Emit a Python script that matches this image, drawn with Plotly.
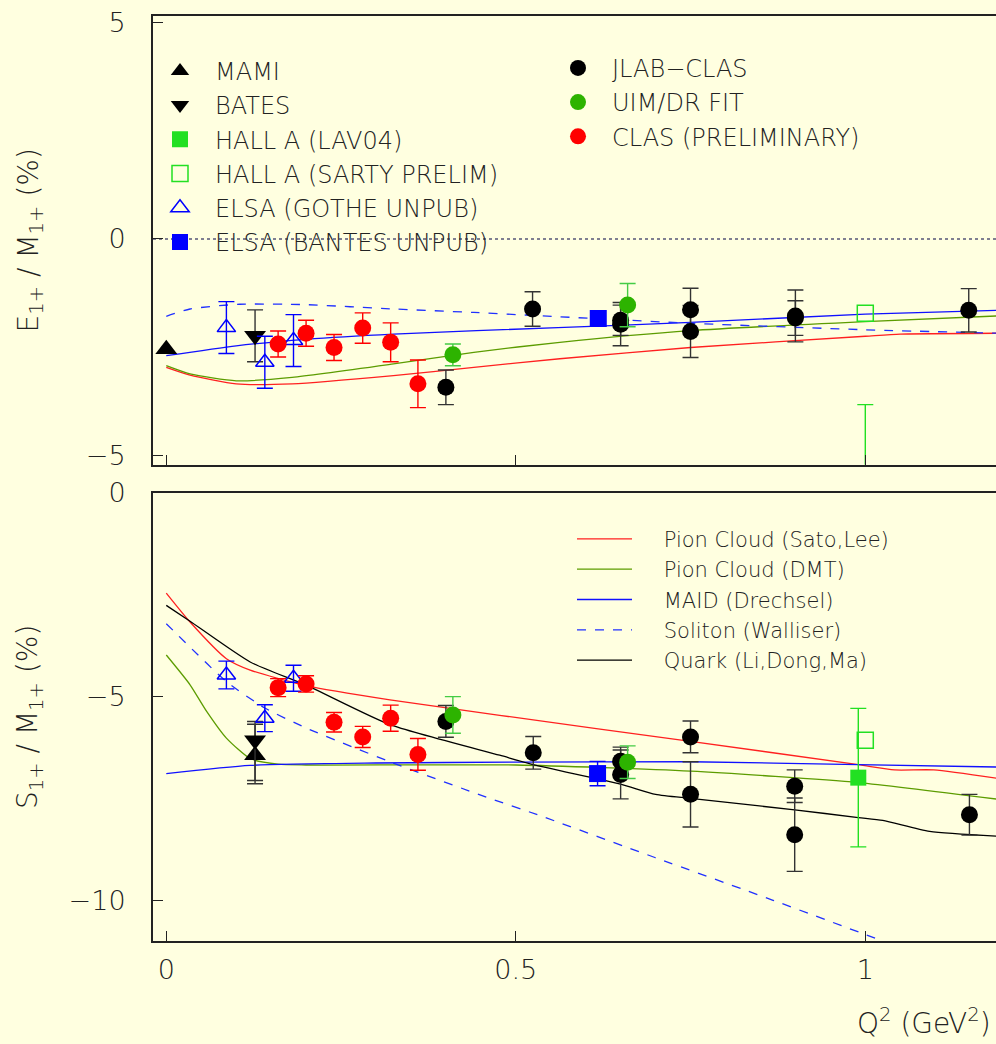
import plotly.graph_objects as go

# ---------------- data: E1+/M1+ panel ----------------
MAMI_E_X = [0.0]
MAMI_E_Y = [-2.55]
BATES_E_X = [0.127]
BATES_E_Y = [-2.24]
BATES_E_ERR = [0.6]
HALLA_LAV_E_X = [1.0]
HALLA_LAV_E_Y = [-6.0]
HALLA_LAV_E_ERR = [2.17]
HALLA_SARTY_E_X = [1.0]
HALLA_SARTY_E_Y = [-1.72]
ELSA_GOTHE_E_X = [0.086, 0.141, 0.182]
ELSA_GOTHE_E_Y = [-2.05, -2.85, -2.35]
ELSA_GOTHE_E_ERR = [0.6, 0.6, 0.6]
ELSA_BANTES_E_X = [0.618]
ELSA_BANTES_E_Y = [-1.84]
JLAB_E_X = [0.40, 0.524, 0.65, 0.65, 0.75, 0.75, 0.90, 0.90, 1.148]
JLAB_E_Y = [-3.43, -1.62, -1.97, -1.88, -1.64, -2.14, -1.78, -1.83, -1.65]
JLAB_E_ERR = [0.40, 0.40, 0.50, 0.35, 0.50, 0.60, 0.60, 0.40, 0.50]
UIM_E_X = [0.41, 0.66]
UIM_E_Y = [-2.68, -1.53]
UIM_E_ERR = [0.25, 0.5]
CLASP_E_X = [0.16, 0.20, 0.24, 0.281, 0.321, 0.36]
CLASP_E_Y = [-2.43, -2.18, -2.51, -2.06, -2.39, -3.35]
CLASP_E_ERR = [0.3, 0.3, 0.3, 0.35, 0.45, 0.55]

SATO_E_X = [0, 0.034, 0.1, 0.18, 0.325, 0.44, 0.563, 0.75, 1.0, 1.05, 1.19]
SATO_E_Y = [-2.97, -3.15, -3.35, -3.35, -3.16, -2.97, -2.77, -2.51, -2.25, -2.2, -2.18]
DMT_E_X = [0, 0.034, 0.1, 0.18, 0.325, 0.44, 0.563, 0.75, 1.0, 1.19]
DMT_E_Y = [-2.93, -3.12, -3.28, -3.2, -2.89, -2.62, -2.39, -2.12, -1.91, -1.78]
MAID_E_X = [0, 0.1, 0.2, 0.325, 0.56, 0.75, 1.0, 1.19]
MAID_E_Y = [-2.7, -2.47, -2.32, -2.2, -2.05, -1.93, -1.74, -1.65]
SOL_E_X = [0, 0.034, 0.105, 0.2, 0.325, 0.44, 0.563, 0.75, 1.0, 1.19]
SOL_E_Y = [-1.79, -1.62, -1.51, -1.52, -1.62, -1.70, -1.80, -1.95, -2.10, -2.18]

# ---------------- data: S1+/M1+ panel ----------------
MAMI_S_X = [0.127]
MAMI_S_Y = [-6.44]
MAMI_S_EP = [0.76]
MAMI_S_EM = [0.62]
BATES_S_X = [0.127]
BATES_S_Y = [-6.07]
BATES_S_EP = [0.46]
BATES_S_EM = [1.07]
HALLA_LAV_S_X = [0.99]
HALLA_LAV_S_Y = [-6.99]
HALLA_LAV_S_ERR = [1.7]
HALLA_SARTY_S_X = [1.0]
HALLA_SARTY_S_Y = [-6.07]
ELSA_GOTHE_S_X = [0.086, 0.141, 0.182]
ELSA_GOTHE_S_Y = [-4.47, -5.53, -4.55]
ELSA_GOTHE_S_ERR = [0.34, 0.33, 0.32]
ELSA_BANTES_S_X = [0.617]
ELSA_BANTES_S_Y = [-6.89]
ELSA_BANTES_S_ERR = [0.3]
JLAB_S_X = [0.40, 0.525, 0.65, 0.65, 0.75, 0.75, 0.899, 0.899, 1.149]
JLAB_S_Y = [-5.61, -6.38, -6.59, -6.91, -5.99, -7.40, -7.20, -8.39, -7.90]
JLAB_S_ERR = [0.39, 0.40, 0.35, 0.60, 0.39, 0.80, 0.40, 0.90, 0.50]
UIM_S_X = [0.41, 0.66]
UIM_S_Y = [-5.45, -6.61]
UIM_S_ERR = [0.45, 0.4]
CLASP_S_X = [0.16, 0.20, 0.24, 0.281, 0.321, 0.36]
CLASP_S_Y = [-4.78, -4.69, -5.63, -5.99, -5.53, -6.42]
CLASP_S_ERR = [0.22, 0.2, 0.24, 0.26, 0.32, 0.39]

SATO_S_X = [0, 0.034, 0.086, 0.12, 0.2, 0.32, 0.477, 0.75, 0.99, 1.042, 1.098, 1.19]
SATO_S_Y = [-2.46, -3.17, -4.07, -4.35, -4.73, -5.08, -5.46, -6.10, -6.67, -6.80, -6.80, -7.01]
DMT_S_X = [0, 0.034, 0.058, 0.086, 0.12, 0.16, 0.2, 0.5, 0.75, 0.99, 1.19]
DMT_S_Y = [-3.98, -4.71, -5.37, -6.02, -6.52, -6.66, -6.68, -6.68, -6.83, -7.11, -7.52]
MAID_S_X = [0, 0.12, 0.3, 0.5, 0.75, 0.99, 1.19]
MAID_S_Y = [-6.89, -6.69, -6.63, -6.61, -6.60, -6.67, -6.73]
SOL_S_X = [0, 0.086, 0.141, 0.2, 0.32, 0.463, 0.531, 0.699, 0.868, 1.014]
SOL_S_Y = [-3.21, -4.63, -5.28, -5.77, -6.60, -7.50, -7.90, -8.95, -10.0, -10.93]
QUARK_S_X = [0, 0.034, 0.12, 0.2, 0.32, 0.477, 0.525, 0.65, 0.70, 0.75, 0.899, 0.99, 1.025, 1.092, 1.19]
QUARK_S_Y = [-2.76, -3.15, -4.15, -4.72, -5.69, -6.44, -6.67, -7.15, -7.4, -7.5, -7.78, -7.97, -8.04, -8.31, -8.43]

X_TICKS = [0, 0.5, 1]
X_TICKTEXT = ["0", "0.5", "1"]
Y1_TICKS = [-5, 0, 5]
Y1_TICKTEXT = ["\u22125", "0", "5"]
Y2_TICKS = [-10, -5, 0]
Y2_TICKTEXT = ["\u221210", "\u22125", "0"]

# ---------------- styles ----------------
FONT = "DejaVu Sans"
WGT = 200
TXT = "#222222"
BG = "#ffffe0"
RED = "#ff0000"
BLUE = "#0000ff"
LGREEN = "#22e022"
DGREEN = "#2db300"
BLACK = "#000000"
NB = "\u00a0" * 4

fig = go.Figure()


def err(arr, color, minus=None):
    d = dict(type="data", array=arr, color=color, thickness=1.4, width=8, visible=True)
    if minus is not None:
        d["symmetric"] = False
        d["arrayminus"] = minus
    return d


def pts(x, y, name, symbol, color, size, xa, ya, legend=None, e=None, lw=0):
    show = legend is not None
    fig.add_trace(go.Scatter(
        x=x, y=y, mode="markers", name=name,
        marker=dict(symbol=symbol, color=color, size=size,
                    line=dict(color=color, width=lw)),
        error_y=e, xaxis=xa, yaxis=ya, showlegend=show,
        legend=legend if show else "legend", legendgroup=name,
    ))


def curve(x, y, name, color, dash, xa, ya, show):
    fig.add_trace(go.Scatter(
        x=x, y=y, mode="lines", name=name,
        line=dict(color=color, width=1.3, dash=dash, shape="spline", smoothing=0.6),
        xaxis=xa, yaxis=ya, showlegend=show, legend="legend3", legendgroup=name,
    ))


# curves (drawn first, underneath points)
curve(SATO_E_X, SATO_E_Y, "Pion Cloud (Sato,Lee)", "#ff2020", "solid", "x", "y", False)
curve(DMT_E_X, DMT_E_Y, "Pion Cloud (DMT)", "#5c9c00", "solid", "x", "y", False)
curve(MAID_E_X, MAID_E_Y, "MAID (Drechsel)", "#1010ff", "solid", "x", "y", False)
curve(SOL_E_X, SOL_E_Y, "Soliton (Walliser)", "#2030ff", "dash", "x", "y", False)

curve(SATO_S_X, SATO_S_Y, NB + "Pion Cloud (Sato,Lee)", "#ff2020", "solid", "x2", "y2", True)
curve(DMT_S_X, DMT_S_Y, NB + "Pion Cloud (DMT)", "#5c9c00", "solid", "x2", "y2", True)
curve(MAID_S_X, MAID_S_Y, NB + "MAID (Drechsel)", "#1010ff", "solid", "x2", "y2", True)
curve(SOL_S_X, SOL_S_Y, NB + "Soliton (Walliser)", "#2030ff", "dash", "x2", "y2", True)
curve(QUARK_S_X, QUARK_S_Y, NB + "Quark (Li,Dong,Ma)", BLACK, "solid", "x2", "y2", True)

# E panel points
pts(MAMI_E_X, MAMI_E_Y, "MAMI", "triangle-up", BLACK, 19, "x", "y", legend="legend")
pts(BATES_E_X, BATES_E_Y, "BATES", "triangle-down", BLACK, 19, "x", "y", legend="legend",
    e=err(BATES_E_ERR, "#333333"))
pts(HALLA_LAV_E_X, HALLA_LAV_E_Y, "HALL A (LAV04)", "square", LGREEN, 16, "x", "y", legend="legend",
    e=err(HALLA_LAV_E_ERR, LGREEN))
pts(HALLA_SARTY_E_X, HALLA_SARTY_E_Y, "HALL A (SARTY PRELIM)", "square-open", LGREEN, 16, "x", "y",
    legend="legend", lw=1.5)
pts(ELSA_GOTHE_E_X, ELSA_GOTHE_E_Y, "ELSA (GOTHE UNPUB)", "triangle-up-open", BLUE, 16, "x", "y",
    legend="legend", e=err(ELSA_GOTHE_E_ERR, BLUE), lw=1.5)
pts(ELSA_BANTES_E_X, ELSA_BANTES_E_Y, "ELSA (BANTES UNPUB)", "square", BLUE, 17, "x", "y", legend="legend")
pts(JLAB_E_X, JLAB_E_Y, "JLAB\u2212CLAS", "circle", BLACK, 17, "x", "y", legend="legend2",
    e=err(JLAB_E_ERR, "#333333"))
pts(UIM_E_X, UIM_E_Y, "UIM/DR FIT", "circle", DGREEN, 17, "x", "y", legend="legend2",
    e=err(UIM_E_ERR, "#44cc44"))
pts(CLASP_E_X, CLASP_E_Y, "CLAS (PRELIMINARY)", "circle", RED, 17, "x", "y", legend="legend2",
    e=err(CLASP_E_ERR, RED))

# S panel points
pts(MAMI_S_X, MAMI_S_Y, "MAMI", "triangle-up", BLACK, 19, "x2", "y2",
    e=err(MAMI_S_EP, "#333333", MAMI_S_EM))
pts(BATES_S_X, BATES_S_Y, "BATES", "triangle-down", BLACK, 19, "x2", "y2",
    e=err(BATES_S_EP, "#333333", BATES_S_EM))
pts(HALLA_SARTY_S_X, HALLA_SARTY_S_Y, "HALL A (SARTY PRELIM)", "square-open", LGREEN, 16, "x2", "y2", lw=1.5)
pts(HALLA_LAV_S_X, HALLA_LAV_S_Y, "HALL A (LAV04)", "square", LGREEN, 16, "x2", "y2",
    e=err(HALLA_LAV_S_ERR, LGREEN))
pts(ELSA_GOTHE_S_X, ELSA_GOTHE_S_Y, "ELSA (GOTHE UNPUB)", "triangle-up-open", BLUE, 16, "x2", "y2",
    e=err(ELSA_GOTHE_S_ERR, BLUE), lw=1.5)
pts(ELSA_BANTES_S_X, ELSA_BANTES_S_Y, "ELSA (BANTES UNPUB)", "square", BLUE, 17, "x2", "y2",
    e=err(ELSA_BANTES_S_ERR, BLUE))
pts(JLAB_S_X, JLAB_S_Y, "JLAB\u2212CLAS", "circle", BLACK, 17, "x2", "y2", e=err(JLAB_S_ERR, "#333333"))
pts(UIM_S_X, UIM_S_Y, "UIM/DR FIT", "circle", DGREEN, 17, "x2", "y2", e=err(UIM_S_ERR, "#44cc44"))
pts(CLASP_S_X, CLASP_S_Y, "CLAS (PRELIMINARY)", "circle", RED, 17, "x2", "y2", e=err(CLASP_S_ERR, RED))

W, H = 996, 1044
ML, MR, MT, MB = 153, 0, 10, 103
PW, PH = W - ML - MR, H - MT - MB


def px(xp):
    return (xp - ML) / PW


def py(yp):
    return (H - MB - yp) / PH


def fnt(size):
    return dict(family=FONT, size=size, color=TXT, weight=WGT)


axis_common = dict(showline=True, linewidth=2, linecolor=TXT, ticks="inside", ticklen=10,
                   tickwidth=1.3, tickcolor=TXT, showgrid=False, zeroline=False,
                   tickfont=fnt(27))

fig.update_layout(
    width=W, height=H,
    margin=dict(l=ML, r=MR, t=MT, b=MB),
    paper_bgcolor=BG, plot_bgcolor=BG,
    font=fnt(24),
    xaxis=dict(domain=[0, 1], range=[-0.019, 1.187], anchor="y", mirror=True,
               tickvals=X_TICKS, showticklabels=False, **axis_common),
    yaxis=dict(domain=[py(461.7), 1], range=[-5.22, 5.15], anchor="x",
               tickvals=Y1_TICKS, ticktext=Y1_TICKTEXT, ticklabelstandoff=20, **axis_common),
    xaxis2=dict(domain=[0, 1], range=[-0.019, 1.187], anchor="y2", mirror=True,
                tickvals=X_TICKS, ticktext=X_TICKTEXT, ticklabelstandoff=4, **axis_common),
    yaxis2=dict(domain=[0, py(490)], range=[-11, 0], anchor="x2",
                tickvals=Y2_TICKS, ticktext=Y2_TICKTEXT, ticklabelstandoff=20, **axis_common),
    legend=dict(x=px(145), y=py(43), xanchor="left", yanchor="top", bgcolor="rgba(0,0,0,0)",
                itemwidth=60, tracegroupgap=0, font=fnt(24)),
    legend2=dict(x=px(544), y=py(40), xanchor="left", yanchor="top", bgcolor="rgba(0,0,0,0)",
                 itemwidth=58, tracegroupgap=0, font=fnt(24)),
    legend3=dict(x=px(572), y=py(516), xanchor="left", yanchor="top", bgcolor="rgba(0,0,0,0)",
                 itemwidth=55, tracegroupgap=0, font=fnt(21)),
    shapes=[dict(type="line", xref="x domain", yref="y", x0=0, x1=1, y0=0, y1=0,
                 line=dict(color="#555577", width=1.5, dash="dot"), layer="below")],
    annotations=[
        dict(text="E<sub>1+</sub> / M<sub>1+</sub> (%)", xref="paper", yref="y domain",
             x=px(30), y=0.5, xanchor="center", yanchor="middle", textangle=-90, showarrow=False,
             font=fnt(28)),
        dict(text="S<sub>1+</sub> / M<sub>1+</sub> (%)", xref="paper", yref="y2 domain",
             x=px(30), y=0.5, xanchor="center", yanchor="middle", textangle=-90, showarrow=False,
             font=fnt(28)),
        dict(text="Q<sup>2</sup> (GeV<sup>2</sup>)", xref="paper", yref="paper",
             x=px(855), y=py(1022), xanchor="left", yanchor="middle", showarrow=False,
             font=fnt(28)),
    ],
)

fig.write_html("out.html", config={"displayModeBar": False},
               post_script="document.body.style.margin='0';document.body.style.overflow='hidden';")
